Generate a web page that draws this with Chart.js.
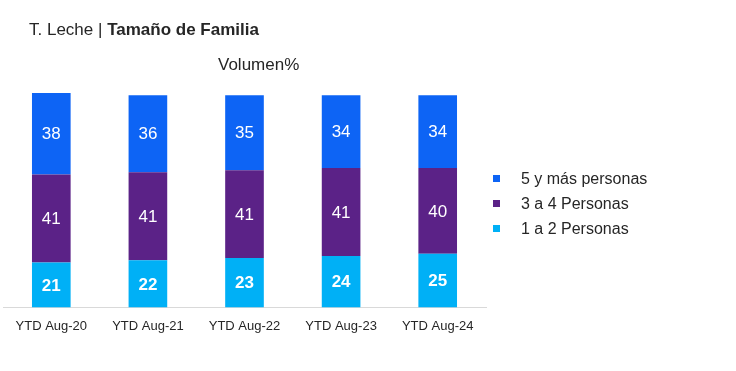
<!DOCTYPE html>
<html>
<head>
<meta charset="utf-8">
<script src="https://cdn.jsdelivr.net/npm/chart.js@4"></script>
<style>
  body { margin: 0; background: #fff; font-family: "Liberation Sans", Arial, sans-serif; }
  #wrap { position: relative; width: 736px; height: 371px; }
  #title { position: absolute; left: 29px; top: 20px; font-size: 17px; color: #262626; }
  #subtitle { position: absolute; left: 218px; top: 55px; font-size: 17px; color: #262626; }
  #legend { position: absolute; left: 493px; top: 166px; font-size: 16px; color: #262626; }
  .item { height: 25px; display: flex; align-items: center; }
  .box { width: 7px; height: 7px; margin-right: 21px; }
</style>
</head>
<body>
<div id="wrap">
  <div id="title">T. Leche | <b>Tamaño de Familia</b></div>
  <div id="subtitle">Volumen%</div>
  <canvas id="chart" width="736" height="371"></canvas>
  <div id="legend"></div>
</div>
<script>
// chart data
const periods = ['YTD Aug-20', 'YTD Aug-21', 'YTD Aug-22', 'YTD Aug-23', 'YTD Aug-24'];
const small = [21, 22, 23, 24, 25];      // 1 a 2 Personas
const medium = [41, 41, 41, 41, 40];     // 3 a 4 Personas
const large = [38, 36, 35, 34, 34];      // 5 y más personas

const datasets = [
    { label: '1 a 2 Personas', data: small, backgroundColor: '#00B0F6', bold: true },
    { label: '3 a 4 Personas', data: medium, backgroundColor: '#5B2287' },
    { label: '5 y más personas', data: large, backgroundColor: '#0D64F5' }
];

// draws the value in the middle of each segment
const segmentLabels = {
    id: 'segmentLabels',
    afterDatasetsDraw(chart) {
        const ctx = chart.ctx;
        ctx.save();
        ctx.textAlign = 'center';
        ctx.textBaseline = 'middle';
        ctx.fillStyle = '#fff';
        chart.data.datasets.forEach((ds, i) => {
            ctx.font = (ds.bold ? 'bold ' : '') + '17px "Liberation Sans", Arial, sans-serif';
            chart.getDatasetMeta(i).data.forEach((bar, j) => {
                const mid = (bar.y + bar.base) / 2;
                ctx.fillText(ds.data[j], bar.x, mid + 1);
            });
        });
        ctx.restore();
    }
};

new Chart(document.getElementById('chart'), {
    type: 'bar',
    data: { labels: periods, datasets: datasets },
    options: {
        responsive: false,
        animation: false,
        barPercentage: 0.4,
        categoryPercentage: 1,
        layout: { padding: { left: 3, right: 250, top: 93, bottom: 34 } },
        plugins: { legend: { display: false }, tooltip: { enabled: false } },
        scales: {
            x: {
                stacked: true,
                grid: { display: false },
                border: { color: '#d9d9d9' },
                ticks: { color: '#262626', font: { size: 13, family: '"Liberation Sans", Arial, sans-serif' }, padding: 3 }
            },
            y: {
                stacked: true,
                display: false,
                min: 0,
                max: 100
            }
        }
    },
    plugins: [segmentLabels]
});

// legend, top series first
const legend = document.getElementById('legend');
datasets.slice().reverse().forEach(ds => {
    const item = document.createElement('div');
    item.className = 'item';
    item.innerHTML = `<span class="box" style="background:${ds.backgroundColor}"></span>${ds.label}`;
    legend.appendChild(item);
});
</script>
</body>
</html>
